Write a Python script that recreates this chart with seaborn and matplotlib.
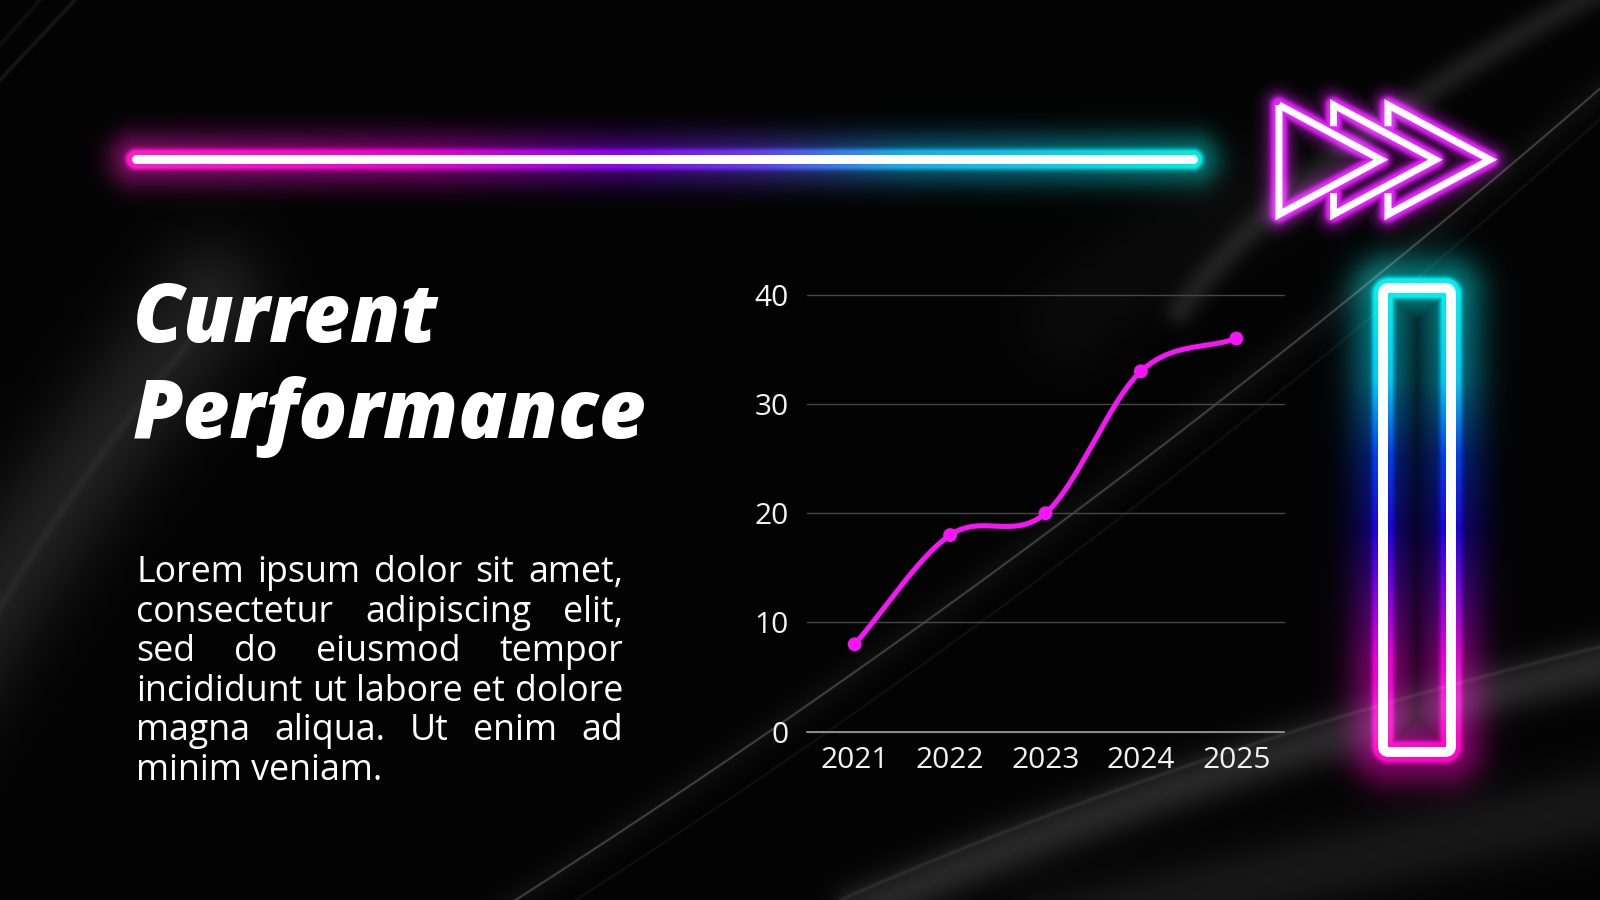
import numpy as np
import matplotlib
matplotlib.use("Agg")
import matplotlib.pyplot as plt
from matplotlib.patches import FancyBboxPatch
import seaborn as sns
import pandas as pd

# chart data
years = ["2021", "2022", "2023", "2024", "2025"]
values = [8, 18, 20, 33, 36]
y_ticks = [0, 10, 20, 30, 40]

title_lines = ["Current", "Performance"]
body_lines = [
    "Lorem ipsum dolor sit amet,",
    "consectetur adipiscing elit,",
    "sed do eiusmod tempor",
    "incididunt ut labore et dolore",
    "magna aliqua. Ut enim ad",
    "minim veniam.",
]

W, H = 1600, 900
PT = 72 / 100  # pixels -> points at dpi 100

sns.set_theme(style="dark")
plt.rcParams["font.family"] = ["Open Sans", "DejaVu Sans"]

# ---------- pixel grid helpers ----------
yy, xx = np.mgrid[0:H, 0:W].astype(float)
xx += 0.5
yy += 0.5


def seg_dist(x0, y0, x1, y1):
    dx, dy = x1 - x0, y1 - y0
    t = np.clip(((xx - x0) * dx + (yy - y0) * dy) / (dx * dx + dy * dy), 0, 1)
    return np.hypot(xx - (x0 + t * dx), yy - (y0 + t * dy))


def poly_dist(pts):
    d = np.full(xx.shape, 1e9)
    for (x0, y0), (x1, y1) in zip(pts[:-1], pts[1:]):
        d = np.minimum(d, seg_dist(x0, y0, x1, y1))
    return d


def bezier(p0, p1, p2, n=24):
    t = np.linspace(0, 1, n)[:, None]
    p0, p1, p2 = map(np.asarray, (p0, p1, p2))
    return list(map(tuple, (1 - t) ** 2 * p0 + 2 * (1 - t) * t * p1 + t ** 2 * p2))


def gradient(coord, stops):
    pos = [s[0] for s in stops]
    out = np.zeros(coord.shape + (3,))
    for c in range(3):
        out[..., c] = np.interp(coord, pos, [s[1][c] / 255 for s in stops])
    return out


def catmull_rom(x, y, n=40):
    x = np.asarray(x, float)
    y = np.asarray(y, float)
    m = np.gradient(y, x)
    xs, ys = [], []
    t = np.linspace(0, 1, n)
    h00 = 2 * t**3 - 3 * t**2 + 1
    h10 = t**3 - 2 * t**2 + t
    h01 = -2 * t**3 + 3 * t**2
    h11 = t**3 - t**2
    for i in range(len(x) - 1):
        h = x[i + 1] - x[i]
        xs.append(x[i] + t * h)
        ys.append(h00 * y[i] + h10 * h * m[i] + h01 * y[i + 1] + h11 * h * m[i + 1])
    return np.concatenate(xs), np.concatenate(ys)


# ---------- dark silky background ----------
img = np.full((H, W, 3), 0.012)


def add_grey(d, sigma, amp):
    img[...] += (amp * np.exp(-(d / sigma) ** 2))[..., None]


# left swoosh
add_grey(poly_dist(bezier((-80, 720), (40, 520), (210, 300))), 60, 0.11)
add_grey(poly_dist(bezier((-20, 640), (80, 470), (200, 330))), 5, 0.035)
add_grey(poly_dist([(0, 80), (75, 0)]), 2, 0.08)
add_grey(poly_dist([(0, 45), (40, 0)]), 2, 0.05)
# thin diagonal line through the chart
diag = bezier((500, 910), (1080, 540), (1610, 80), 40)
add_grey(poly_dist(diag), 1.1, 0.22)
add_grey(poly_dist(diag), 16, 0.035)
add_grey(poly_dist(bezier((560, 910), (1110, 560), (1610, 110), 40)), 1.3, 0.05)
# top right arc behind the arrows
add_grey(poly_dist(bezier((1180, 310), (1300, 150), (1600, -10))), 15, 0.10)
add_grey(poly_dist(bezier((1070, 320), (1150, 250), (1260, 190))), 50, 0.03)
# bottom right swoosh
add_grey(poly_dist(bezier((860, 910), (1200, 760), (1620, 660))), 26, 0.14)
add_grey(poly_dist(bezier((840, 900), (1200, 742), (1620, 642))), 2, 0.07)
add_grey(poly_dist(bezier((1050, 930), (1350, 860), (1620, 800))), 40, 0.08)


def neon(d, col, ring, spread, amp):
    e = np.maximum(d - ring, 0)
    a = np.clip(ring + 1.0 - d, 0, 1)
    a = np.maximum(a, 0.6 * np.exp(-(e / 4) ** 2) + amp * np.exp(-(e / spread) ** 2))
    a = np.clip(a, 0, 1)[..., None]
    img[...] = 1 - (1 - img) * (1 - col * a)


# horizontal neon bar
bar_x0, bar_x1, bar_y = 136, 1193, 159.3
bar_cols = gradient(xx, [(130, (255, 25, 200)), (420, (230, 0, 205)),
                         (620, (135, 0, 240)), (760, (95, 60, 240)),
                         (900, (20, 170, 230)), (1200, (0, 235, 225))])
neon(seg_dist(bar_x0, bar_y, bar_x1, bar_y), bar_cols, 7.0, 22, 0.42)

# vertical neon rectangle
rx0, rx1, ry0, ry1, rr = 1383, 1451, 288, 752, 6
cx, cy = (rx0 + rx1) / 2, (ry0 + ry1) / 2
qx = np.abs(xx - cx) - ((rx1 - rx0) / 2 - rr)
qy = np.abs(yy - cy) - ((ry1 - ry0) / 2 - rr)
sdf = np.hypot(np.maximum(qx, 0), np.maximum(qy, 0)) + np.minimum(np.maximum(qx, qy), 0) - rr
rect_cols = gradient(yy, [(288, (0, 240, 240)), (380, (0, 200, 240)),
                          (455, (0, 60, 230)), (530, (25, 0, 220)),
                          (590, (120, 0, 220)), (660, (230, 0, 210)),
                          (752, (255, 0, 200))])
neon(np.abs(sdf), rect_cols, 7.5, 28, 0.45)

# fast-forward triangles
L1, T, tri_top, tri_bot, tri_tip = 1279, 102, 105, 214.5, 159.7
step, gap = 54.5, 8
tri_paths = []
for k in range(3):
    L = L1 + k * step
    tip = (L + T, tri_tip)
    if k == 0:
        tri_paths.append([(L, tri_top), tip, (L, tri_bot), (L, tri_top)])
    else:
        pl = L - step
        up = tri_top + (L - pl) * (tri_tip - tri_top) / T - gap
        lo = tri_bot - (L - pl) * (tri_bot - tri_tip) / T + gap
        tri_paths.append([(L, up), (L, tri_top), tip, (L, tri_bot), (L, lo)])
tri_d = np.minimum.reduce([poly_dist(p) for p in tri_paths])
tri_col = np.array([230, 30, 255]) / 255
neon(tri_d, tri_col, 5.0, 12, 0.35)

img = np.clip(img, 0, 1)

# ---------- figure ----------
fig = plt.figure(figsize=(16, 9), dpi=100, facecolor="black")
bg = fig.add_axes([0, 0, 1, 1])
bg.imshow(img, extent=(0, W, H, 0), interpolation="bilinear", zorder=0)
bg.set_xlim(0, W)
bg.set_ylim(H, 0)
bg.axis("off")

# white cores of the neon shapes
bg.plot([bar_x0, bar_x1], [bar_y, bar_y], color="white", lw=9 * PT,
        solid_capstyle="round", zorder=3)
bg.add_patch(FancyBboxPatch((rx0, ry0), rx1 - rx0, ry1 - ry0,
                            boxstyle=f"round,pad=0,rounding_size={rr}",
                            fill=False, ec="white", lw=10 * PT, zorder=3))
for p in tri_paths:
    px, py = zip(*p)
    bg.plot(px, py, color="white", lw=7 * PT, solid_joinstyle="miter",
            solid_capstyle="butt", zorder=3)

renderer = fig.canvas.get_renderer()


def text_width(s, **kw):
    t = bg.text(0, 0, s, **kw)
    w = t.get_window_extent(renderer).width
    t.remove()
    return w


# title
title_kw = dict(family=["Open Sans", "DejaVu Sans"], weight=800, style="italic")
title_size = 60 * 514 / text_width(title_lines[1], fontsize=60, **title_kw)
for line, base in zip(title_lines, [342, 438]):
    bg.text(133, base, line, color="white", fontsize=title_size, va="baseline",
            ha="left", zorder=4, **title_kw)

# justified body text
body_x0, body_x1 = 136, 623
body_kw = dict(family=["Open Sans", "DejaVu Sans"])
body_size = 22 * (body_x1 - body_x0) / text_width(body_lines[3], fontsize=22, **body_kw)
for i, line in enumerate(body_lines):
    base = 582 + i * 39.6
    words = line.split()
    if i == len(body_lines) - 1:
        bg.text(body_x0, base, line, color="white", fontsize=body_size,
                va="baseline", ha="left", zorder=4, **body_kw)
        continue
    widths = [text_width(w, fontsize=body_size, **body_kw) for w in words]
    space = (body_x1 - body_x0 - sum(widths)) / (len(words) - 1)
    x = body_x0
    for w, wd in zip(words, widths):
        bg.text(x, base, w, color="white", fontsize=body_size, va="baseline",
                ha="left", zorder=4, **body_kw)
        x += wd + space

# ---------- line chart ----------
ax = fig.add_axes([807 / W, 1 - 731.6 / H, (1284 - 807) / W, (731.6 - 294.9) / H])
ax.set_facecolor("none")
df = pd.DataFrame({"pos": np.arange(len(years)), "value": values})
sx, sy = catmull_rom(df["pos"], df["value"])
line_color = "#f814f8"
sns.lineplot(x=sx, y=sy, ax=ax, color=line_color, lw=3.7, sort=False,
             estimator=None, zorder=4)
sns.scatterplot(data=df, x="pos", y="value", ax=ax, s=100, color=line_color,
                edgecolor="none", zorder=5)
ax.set_xlim(-0.5, len(years) - 0.5)
ax.set_ylim(0, 40)
ax.set_xticks(df["pos"], years)
ax.set_yticks(y_ticks)
ax.set_xlabel("")
ax.set_ylabel("")
ax.grid(axis="x", visible=False)
ax.grid(axis="y", color="#474747", lw=1)
for gl in ax.get_ygridlines():
    gl.set_clip_on(False)
for sp in ax.spines.values():
    sp.set_visible(False)
ax.axhline(0, color="#8c8c8c", lw=1.4, clip_on=False, zorder=2)
ax.tick_params(axis="both", colors="#f2f2f2", labelsize=21.5, length=0)
ax.tick_params(axis="y", pad=13)
ax.tick_params(axis="x", pad=10.5)

fig.savefig("out.png", dpi=100, facecolor="black")
